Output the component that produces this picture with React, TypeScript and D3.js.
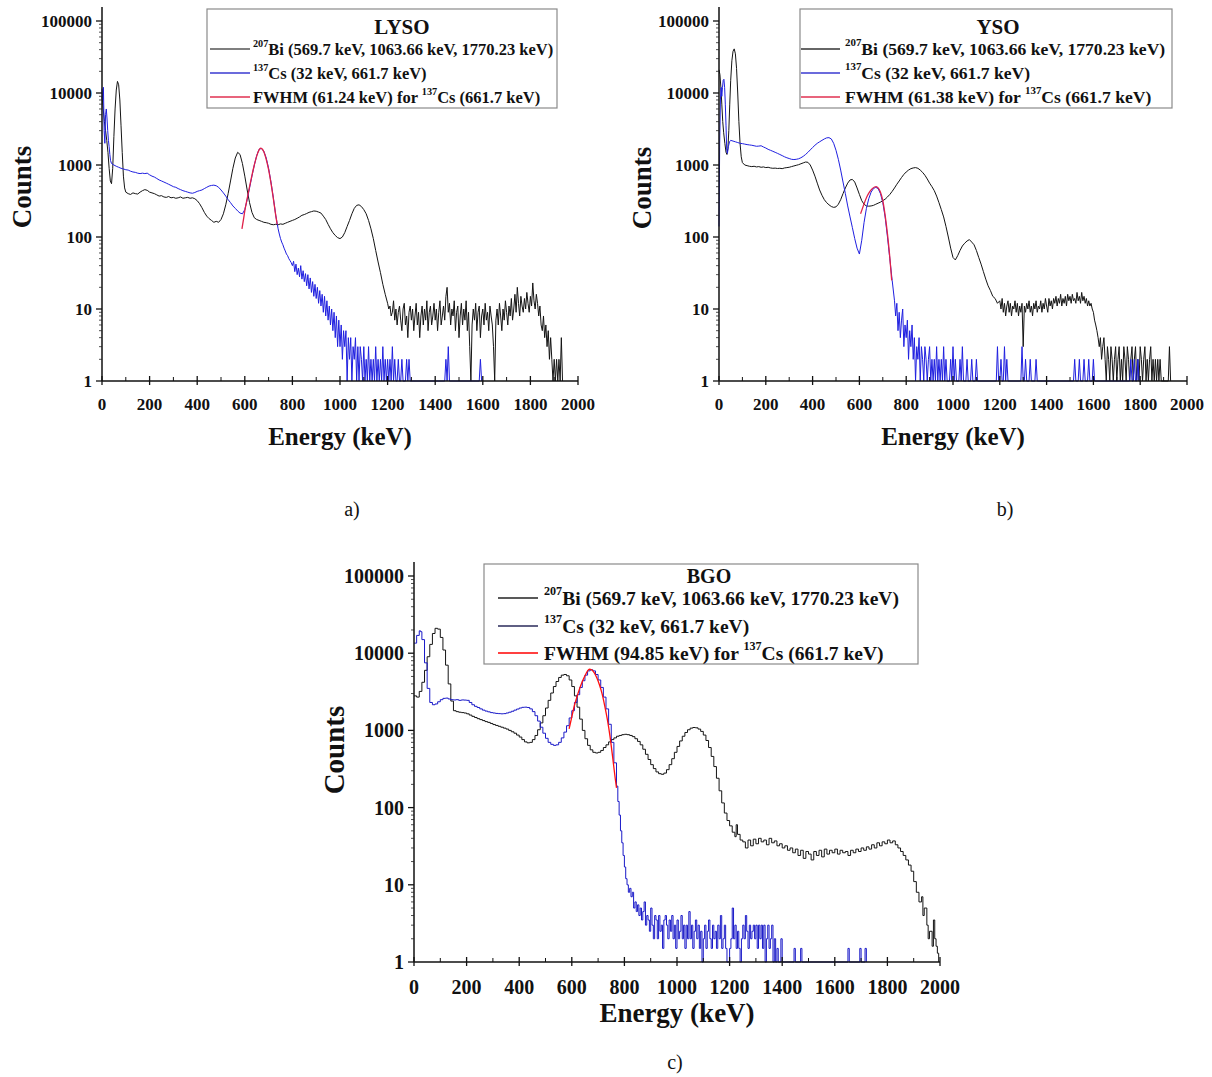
import React from 'react';
import * as d3 from 'd3';

type Pt = [number, number];

// ---------- axis tick data ----------
const xTickValues = [0, 200, 400, 600, 800, 1000, 1200, 1400, 1600, 1800, 2000];
const xMinorValues = [100, 300, 500, 700, 900, 1100, 1300, 1500, 1700, 1900];
const yTickValues = [1, 10, 100, 1000, 10000, 100000];
const yTickLabels = ['1', '10', '100', '1000', '10000', '100000'];
const xAxisTitle = 'Energy (keV)';
const yAxisTitle = 'Counts';

// ---------- legend texts ----------
const legendBiSup = '207';
const legendBi = 'Bi (569.7 keV, 1063.66 keV, 1770.23 keV)';
const legendCsSup = '137';
const legendCs = 'Cs (32 keV, 661.7 keV)';
const fwhmLYSO = '61.24';
const fwhmYSO = '61.38';
const fwhmBGO = '94.85';

// ---------- LYSO (a) ----------
const lysoBi: Pt[] = [
  [0, 9000], [5, 6000], [10, 4000], [15, 3000], [20, 2200], [25, 1500], [30, 900], [35, 600], [40, 550], [45, 900],
  [50, 2500], [55, 6000], [60, 11000], [65, 14500], [70, 13000], [75, 8000], [80, 3500], [85, 1500], [90, 700], [95, 480],
  [100, 420], [110, 400], [120, 390], [130, 410], [140, 400], [150, 395], [160, 420], [170, 440], [180, 455], [190, 445],
  [200, 420], [210, 410], [220, 400], [230, 385], [240, 370], [250, 375], [260, 360], [270, 355], [280, 365], [290, 350],
  [300, 355], [310, 345], [320, 350], [330, 360], [340, 345], [350, 350], [360, 355], [370, 345], [380, 350], [390, 340],
  [400, 320], [410, 290], [420, 255], [430, 220], [440, 195], [450, 180], [460, 170], [470, 160], [480, 165], [490, 160],
  [500, 175], [510, 210], [520, 280], [530, 400], [540, 600], [550, 900], [560, 1250], [570, 1500], [580, 1400], [590, 1050],
  [600, 700], [610, 450], [620, 300], [630, 220], [640, 185], [650, 175], [660, 170], [670, 165], [680, 160], [690, 158],
  [700, 155], [710, 150], [720, 148], [730, 150], [740, 148], [750, 152], [760, 150], [770, 155], [780, 160], [790, 165],
  [800, 170], [810, 175], [820, 182], [830, 190], [840, 200], [850, 205], [860, 212], [870, 220], [880, 225], [890, 230],
  [900, 228], [910, 222], [920, 215], [930, 195], [940, 175], [950, 150], [960, 130], [970, 115], [980, 105], [990, 98],
  [1000, 95], [1010, 100], [1020, 115], [1030, 140], [1040, 170], [1050, 210], [1060, 250], [1070, 275], [1080, 280], [1090, 265],
  [1100, 240], [1110, 210], [1120, 170], [1130, 130], [1140, 95], [1150, 65], [1160, 45], [1170, 32], [1180, 22], [1190, 16],
  [1200, 12], [1205, 10], [1210, 11], [1215, 8], [1220, 9], [1225, 13], [1230, 7], [1235, 10], [1240, 6], [1245, 9],
  [1250, 11], [1255, 7], [1260, 5], [1265, 10], [1270, 12], [1275, 6], [1280, 8], [1285, 4], [1290, 9], [1295, 11],
  [1300, 7], [1305, 10], [1310, 5], [1315, 8], [1320, 12], [1325, 6], [1330, 9], [1335, 4], [1340, 8], [1345, 11],
  [1350, 6], [1355, 10], [1360, 7], [1365, 13], [1370, 5], [1375, 9], [1380, 11], [1385, 6], [1390, 8], [1395, 12],
  [1400, 7], [1405, 10], [1410, 5], [1415, 9], [1420, 13], [1425, 6], [1430, 8], [1435, 11], [1440, 7], [1445, 15],
  [1450, 20], [1455, 9], [1460, 12], [1465, 6], [1470, 10], [1475, 8], [1480, 13], [1485, 5], [1490, 9], [1495, 11],
  [1500, 4], [1505, 8], [1510, 12], [1515, 6], [1520, 10], [1525, 7], [1530, 13], [1535, 5], [1540, 9], [1545, 3],
  [1550, 1], [1555, 6], [1560, 10], [1565, 7], [1570, 12], [1575, 5], [1580, 9], [1585, 11], [1590, 4], [1595, 8],
  [1600, 10], [1605, 6], [1610, 12], [1615, 7], [1620, 9], [1625, 5], [1630, 11], [1635, 8], [1640, 6], [1645, 3],
  [1650, 1], [1655, 7], [1660, 10], [1665, 6], [1670, 12], [1675, 8], [1680, 5], [1685, 10], [1690, 7], [1695, 13],
  [1700, 9], [1705, 6], [1710, 11], [1715, 8], [1720, 14], [1725, 7], [1730, 10], [1735, 16], [1740, 9], [1745, 20],
  [1750, 12], [1755, 8], [1760, 15], [1765, 11], [1770, 9], [1775, 14], [1780, 10], [1785, 17], [1790, 12], [1795, 9],
  [1800, 15], [1805, 11], [1810, 23], [1815, 13], [1820, 10], [1825, 16], [1830, 12], [1835, 8], [1840, 11], [1845, 6],
  [1850, 5], [1855, 8], [1860, 4], [1865, 6], [1870, 3], [1875, 5], [1880, 2], [1885, 4], [1890, 2], [1895, 1],
  [1900, 2], [1905, 1], [1910, 2], [1915, 1], [1920, 2], [1925, 1], [1930, 4], [1935, 1],
];
const lysoCs: Pt[] = [
  [0, 11500], [3, 8000], [6, 12000], [9, 3000], [12, 2000], [15, 5000], [18, 6000], [21, 4500], [24, 3000], [27, 2200],
  [30, 1800], [33, 1400], [36, 1150], [40, 1050], [50, 1000], [60, 960], [70, 930], [80, 900], [90, 880], [100, 860],
  [110, 850], [120, 820], [130, 800], [140, 790], [150, 770], [160, 760], [170, 770], [180, 760], [190, 770], [200, 730],
  [210, 700], [220, 680], [230, 650], [240, 620], [250, 600], [260, 580], [270, 560], [280, 540], [290, 520], [300, 500],
  [310, 490], [320, 470], [330, 455], [340, 440], [350, 430], [360, 420], [370, 410], [380, 405], [390, 415], [400, 430],
  [410, 440], [420, 450], [430, 470], [440, 490], [450, 510], [460, 520], [470, 525], [480, 515], [490, 490], [500, 450],
  [510, 410], [520, 370], [530, 330], [540, 300], [550, 270], [560, 250], [570, 230], [580, 215], [590, 210], [600, 240],
  [610, 330], [620, 480], [630, 700], [640, 1000], [650, 1350], [660, 1650], [670, 1700], [680, 1550], [690, 1250], [700, 900],
  [710, 580], [720, 350], [730, 200], [740, 130], [745, 110], [750, 95], [755, 85], [760, 78], [765, 70], [770, 64],
  [775, 58], [780, 55], [785, 50], [790, 47], [795, 44], [800, 40], [805, 46], [810, 33], [815, 42], [820, 30],
  [825, 37], [830, 28], [835, 40], [840, 26], [845, 34], [850, 24], [855, 31], [860, 21], [865, 30], [870, 19],
  [875, 27], [880, 17], [885, 24], [890, 15], [895, 22], [900, 14], [905, 20], [910, 12], [915, 18], [920, 11],
  [925, 16], [930, 9], [935, 15], [940, 8], [945, 13], [950, 7], [955, 11], [960, 6], [965, 10], [970, 5],
  [975, 9], [980, 4], [985, 8], [990, 3], [995, 7], [1000, 3], [1005, 6], [1010, 2], [1015, 5], [1020, 3],
  [1025, 5], [1030, 1], [1035, 4], [1040, 2], [1045, 4], [1050, 1], [1055, 3], [1060, 2], [1065, 4], [1070, 1],
  [1075, 3], [1080, 1], [1085, 3], [1090, 2], [1095, 1], [1100, 3], [1105, 1], [1110, 2], [1115, 1], [1120, 3],
  [1125, 1], [1130, 2], [1135, 1], [1140, 2], [1145, 1], [1150, 3], [1155, 1], [1160, 2], [1165, 1], [1170, 2],
  [1175, 1], [1180, 3], [1185, 1], [1190, 2], [1195, 1], [1200, 2], [1205, 1], [1210, 2], [1215, 1], [1220, 3],
  [1225, 1], [1230, 2], [1235, 1], [1240, 1], [1245, 2], [1250, 1], [1255, 1], [1260, 2], [1265, 1], [1275, 1],
  [1280, 2], [1285, 1], [1290, 2], [1295, 1], [1440, 1], [1445, 2], [1450, 1], [1455, 3], [1460, 1], [1585, 1],
  [1590, 2], [1595, 1],
];
const lysoFit: Pt[] = [
  [588, 130], [595, 180], [600, 230], [610, 340], [620, 500], [630, 720], [640, 1000], [650, 1330], [660, 1620],
  [666, 1720], [672, 1680], [680, 1530], [690, 1200], [700, 860], [710, 560], [720, 340], [730, 200], [736, 150],
];

// ---------- YSO (b) ----------
const ysoBi: Pt[] = [
  [0, 21000], [4, 18000], [8, 12000], [12, 7000], [16, 4000], [20, 2800], [25, 2000], [30, 1500], [34, 1400], [38, 1700],
  [42, 3000], [46, 7000], [50, 15000], [55, 28000], [60, 38000], [65, 41000], [70, 35000], [75, 22000], [80, 10000], [85, 4000],
  [90, 2000], [95, 1300], [100, 1080], [110, 1000], [120, 980], [130, 960], [140, 950], [150, 960], [160, 940], [170, 950],
  [180, 930], [190, 940], [200, 920], [210, 930], [220, 910], [230, 900], [240, 905], [250, 895], [260, 900], [270, 890],
  [280, 910], [290, 920], [300, 930], [310, 950], [320, 970], [330, 990], [340, 1010], [350, 1040], [360, 1070], [370, 1100],
  [380, 1090], [390, 1000], [400, 850], [410, 700], [420, 560], [430, 450], [440, 380], [450, 330], [460, 300], [470, 280],
  [480, 265], [490, 258], [500, 262], [510, 285], [520, 330], [530, 400], [540, 480], [550, 560], [560, 620], [570, 630],
  [580, 580], [590, 480], [600, 390], [610, 320], [620, 285], [630, 270], [640, 268], [650, 270], [660, 275], [670, 285],
  [680, 295], [690, 305], [700, 320], [710, 335], [720, 360], [730, 390], [740, 430], [750, 480], [760, 540], [770, 600],
  [780, 670], [790, 740], [800, 800], [810, 850], [820, 890], [830, 910], [840, 920], [850, 900], [860, 850], [870, 790],
  [880, 720], [890, 640], [900, 560], [910, 500], [920, 440], [930, 370], [940, 300], [950, 240], [960, 190], [970, 140],
  [980, 100], [990, 70], [1000, 52], [1010, 48], [1020, 55], [1030, 65], [1040, 75], [1050, 82], [1060, 88], [1070, 92],
  [1080, 85], [1090, 78], [1100, 65], [1110, 52], [1120, 42], [1130, 33], [1140, 26], [1150, 21], [1160, 18], [1170, 15],
  [1180, 14], [1190, 12], [1200, 13], [1205, 10], [1210, 14], [1215, 9], [1220, 12], [1225, 8], [1230, 11], [1235, 13],
  [1240, 9], [1245, 12], [1250, 8], [1255, 11], [1260, 10], [1265, 13], [1270, 9], [1275, 12], [1280, 8], [1285, 11],
  [1290, 9], [1295, 12], [1300, 3], [1305, 11], [1310, 9], [1315, 12], [1320, 10], [1325, 13], [1330, 9], [1335, 11],
  [1340, 8], [1345, 12], [1350, 10], [1355, 13], [1360, 9], [1365, 11], [1370, 10], [1375, 13], [1380, 9], [1385, 12],
  [1390, 10], [1395, 14], [1400, 11], [1405, 9], [1410, 14], [1415, 11], [1420, 13], [1425, 10], [1430, 14], [1435, 12],
  [1440, 15], [1445, 11], [1450, 14], [1455, 12], [1460, 16], [1465, 11], [1470, 14], [1475, 12], [1480, 15], [1485, 11],
  [1490, 16], [1495, 13], [1500, 15], [1505, 12], [1510, 16], [1515, 13], [1520, 14], [1525, 12], [1530, 17], [1535, 13],
  [1540, 15], [1545, 12], [1550, 17], [1555, 13], [1560, 15], [1565, 12], [1570, 14], [1575, 11], [1580, 13], [1585, 11],
  [1590, 12], [1595, 10], [1600, 9], [1605, 7], [1610, 6], [1615, 5], [1620, 4], [1625, 3], [1630, 4], [1635, 2],
  [1640, 3], [1645, 4], [1650, 2], [1655, 1], [1660, 3], [1665, 2], [1670, 1], [1675, 3], [1680, 2], [1685, 1],
  [1690, 2], [1695, 3], [1700, 1], [1705, 2], [1710, 3], [1715, 1], [1720, 2], [1725, 1], [1730, 3], [1735, 2],
  [1740, 1], [1745, 3], [1750, 2], [1755, 1], [1760, 2], [1765, 3], [1770, 1], [1775, 2], [1780, 3], [1785, 1],
  [1790, 2], [1795, 1], [1800, 3], [1805, 2], [1810, 1], [1815, 2], [1820, 3], [1825, 1], [1830, 2], [1835, 1],
  [1840, 2], [1845, 3], [1850, 1], [1855, 2], [1860, 1], [1865, 2], [1870, 1], [1875, 2], [1880, 1], [1885, 2],
  [1890, 1], [1920, 1], [1925, 3], [1930, 1],
];
const ysoCs: Pt[] = [
  [0, 140], [3, 2000], [6, 8000], [9, 12000], [12, 9000], [15, 12000], [18, 15000], [21, 15500], [24, 12000], [27, 7000],
  [30, 3500], [33, 1600], [36, 1450], [40, 1800], [45, 2100], [50, 2200], [60, 2150], [70, 2100], [80, 2050], [90, 2000],
  [100, 1980], [110, 1950], [120, 1920], [130, 1900], [140, 1880], [150, 1850], [160, 1820], [170, 1830], [180, 1850], [190, 1780],
  [200, 1720], [210, 1650], [220, 1600], [230, 1550], [240, 1500], [250, 1450], [260, 1400], [270, 1350], [280, 1300], [290, 1260],
  [300, 1230], [310, 1200], [320, 1190], [330, 1200], [340, 1220], [350, 1260], [360, 1320], [370, 1400], [380, 1500], [390, 1620],
  [400, 1750], [410, 1880], [420, 2000], [430, 2100], [440, 2200], [450, 2300], [460, 2380], [470, 2400], [480, 2300], [490, 2000],
  [500, 1600], [510, 1200], [520, 850], [530, 580], [540, 400], [550, 270], [560, 190], [570, 135], [580, 95], [590, 70],
  [600, 58], [610, 90], [620, 160], [630, 250], [640, 340], [650, 420], [660, 470], [670, 490], [680, 470], [690, 400],
  [700, 300], [710, 190], [720, 100], [730, 50], [740, 25], [750, 13], [755, 8], [760, 12], [765, 5], [770, 9],
  [775, 4], [780, 7], [785, 10], [790, 3], [795, 6], [800, 4], [805, 7], [810, 2], [815, 5], [820, 3],
  [825, 6], [830, 2], [835, 4], [840, 1], [845, 3], [850, 2], [855, 4], [860, 1], [865, 3], [870, 2],
  [875, 1], [880, 3], [885, 2], [890, 1], [895, 2], [900, 3], [905, 1], [910, 2], [915, 1], [920, 2],
  [925, 1], [930, 3], [935, 1], [940, 2], [945, 1], [950, 2], [955, 1], [960, 3], [965, 1], [970, 2],
  [975, 1], [985, 1], [990, 2], [995, 1], [1000, 3], [1005, 1], [1010, 2], [1015, 1], [1025, 1], [1030, 2],
  [1035, 1], [1040, 3], [1045, 1], [1055, 1], [1060, 2], [1065, 1], [1075, 1], [1080, 2], [1085, 1], [1095, 1],
  [1100, 2], [1105, 1], [1185, 1], [1190, 3], [1195, 1], [1200, 1], [1205, 2], [1210, 1], [1215, 1], [1220, 3],
  [1225, 1], [1230, 2], [1235, 1], [1290, 1], [1295, 3], [1300, 1], [1305, 1], [1310, 2], [1315, 1], [1325, 1],
  [1330, 2], [1335, 1], [1350, 1], [1355, 2], [1360, 1], [1515, 1], [1520, 2], [1525, 1], [1535, 1], [1540, 2],
  [1545, 1], [1555, 1], [1560, 2], [1565, 1], [1575, 1], [1580, 2], [1585, 1], [1595, 1], [1600, 2], [1605, 1],
  [1755, 1], [1760, 2], [1765, 1], [1770, 1], [1775, 2], [1780, 1], [1785, 1], [1790, 2], [1795, 1], [1800, 1],
];
const ysoFit: Pt[] = [
  [605, 210], [615, 260], [625, 320], [635, 380], [645, 430], [655, 470], [665, 495], [672, 500], [680, 480],
  [690, 420], [700, 320], [710, 200], [720, 110], [730, 52], [738, 25],
];

// ---------- BGO (c) ----------
const bgoBi: Pt[] = [
  [0, 2800], [10, 2700], [20, 3200], [30, 4200], [40, 6000], [50, 9000], [60, 13000], [70, 18000], [80, 21000], [90, 20500],
  [100, 16000], [110, 11000], [120, 7000], [130, 4000], [140, 2400], [150, 1800], [160, 1750], [170, 1720], [180, 1700], [190, 1680],
  [200, 1640], [210, 1580], [220, 1520], [230, 1470], [240, 1420], [250, 1380], [260, 1340], [270, 1300], [280, 1270], [290, 1230],
  [300, 1190], [310, 1160], [320, 1130], [330, 1100], [340, 1070], [350, 1040], [360, 1000], [370, 960], [380, 920], [390, 870],
  [400, 820], [410, 760], [420, 710], [430, 690], [440, 700], [450, 760], [460, 860], [470, 1020], [480, 1250], [490, 1550],
  [500, 1950], [510, 2450], [520, 3050], [530, 3700], [540, 4300], [550, 4850], [560, 5200], [570, 5300], [580, 5100], [590, 4500],
  [600, 3700], [610, 2800], [620, 2000], [630, 1400], [640, 1000], [650, 780], [660, 640], [670, 560], [680, 520], [690, 510],
  [700, 520], [710, 550], [720, 600], [730, 650], [740, 710], [750, 760], [760, 800], [770, 840], [780, 860], [790, 880],
  [800, 890], [810, 880], [820, 860], [830, 830], [840, 780], [850, 720], [860, 650], [870, 570], [880, 490], [890, 420],
  [900, 360], [910, 320], [920, 290], [930, 275], [940, 270], [950, 280], [960, 310], [970, 360], [980, 430], [990, 520],
  [1000, 620], [1010, 730], [1020, 840], [1030, 940], [1040, 1020], [1050, 1070], [1060, 1090], [1070, 1080], [1080, 1040], [1090, 970],
  [1100, 870], [1110, 740], [1120, 600], [1130, 460], [1140, 340], [1150, 240], [1160, 165], [1170, 115], [1180, 85], [1190, 68],
  [1200, 58], [1210, 48], [1220, 42], [1225, 60], [1230, 45], [1240, 38], [1250, 36], [1260, 30], [1270, 38], [1280, 32],
  [1290, 39], [1300, 34], [1310, 40], [1320, 36], [1330, 38], [1340, 33], [1350, 40], [1360, 35], [1370, 37], [1380, 32],
  [1390, 34], [1400, 30], [1410, 32], [1420, 28], [1430, 30], [1440, 26], [1450, 29], [1460, 24], [1470, 28], [1480, 22],
  [1490, 27], [1500, 25], [1510, 21], [1520, 27], [1530, 24], [1540, 28], [1550, 23], [1560, 29], [1570, 25], [1580, 28],
  [1590, 26], [1600, 29], [1610, 25], [1620, 28], [1630, 26], [1640, 27], [1650, 24], [1660, 28], [1670, 26], [1680, 29],
  [1690, 27], [1700, 30], [1710, 28], [1720, 31], [1730, 29], [1740, 33], [1750, 30], [1760, 35], [1770, 32], [1780, 36],
  [1790, 34], [1800, 38], [1810, 35], [1820, 37], [1830, 33], [1840, 30], [1850, 27], [1860, 24], [1870, 21], [1880, 18],
  [1890, 15], [1900, 11], [1910, 8], [1920, 6], [1930, 7], [1935, 4], [1940, 5], [1950, 3], [1955, 2], [1960, 2.5],
  [1970, 1.6], [1975, 3.5], [1980, 2], [1985, 1.6], [1990, 1.3], [1995, 1],
];
const bgoCs: Pt[] = [
  [0, 13500], [10, 17000], [20, 19500], [25, 19000], [30, 15000], [40, 7500], [50, 3500], [60, 2300], [70, 2150], [80, 2200],
  [90, 2350], [100, 2500], [110, 2600], [120, 2620], [130, 2550], [140, 2500], [150, 2480], [160, 2500], [170, 2450], [180, 2480],
  [190, 2470], [200, 2450], [210, 2300], [220, 2150], [230, 2050], [240, 1980], [250, 1900], [260, 1830], [270, 1780], [280, 1740],
  [290, 1700], [300, 1680], [310, 1660], [320, 1650], [330, 1640], [340, 1650], [350, 1680], [360, 1720], [370, 1770], [380, 1830],
  [390, 1890], [400, 1950], [410, 1990], [420, 2000], [430, 1980], [440, 1900], [450, 1750], [460, 1550], [470, 1320], [480, 1100],
  [490, 920], [500, 790], [510, 700], [520, 660], [530, 640], [540, 650], [550, 700], [560, 800], [570, 950], [580, 1150],
  [590, 1450], [600, 1800], [610, 2300], [620, 2900], [630, 3600], [640, 4400], [650, 5200], [660, 5900], [670, 6100], [680, 5900],
  [690, 5300], [700, 4500], [710, 3600], [720, 2700], [730, 1900], [740, 1200], [750, 700], [760, 380], [770, 190], [775, 120],
  [780, 80], [785, 50], [790, 35], [795, 24], [800, 17], [805, 12], [810, 10], [815, 8], [820, 9], [825, 7],
  [830, 8], [835, 5], [840, 6], [845, 4.5], [850, 5.5], [855, 4], [860, 5], [865, 3.5], [870, 4.5], [875, 6],
  [880, 3], [885, 4], [890, 3.5], [895, 2.5], [900, 5], [905, 3], [910, 2], [915, 4], [920, 3.5], [925, 2],
  [930, 4], [935, 2.5], [940, 3], [945, 1.5], [950, 3.5], [955, 4], [960, 3], [965, 2], [970, 3.5], [975, 2.5],
  [980, 4], [985, 2], [990, 3], [995, 1.5], [1000, 3.5], [1005, 2], [1010, 2.5], [1015, 4], [1020, 2], [1025, 3],
  [1030, 1.5], [1035, 3], [1040, 2], [1045, 4.5], [1050, 2], [1055, 3], [1060, 1.5], [1065, 2.5], [1070, 3.5], [1075, 2],
  [1080, 3], [1085, 1.5], [1090, 2.5], [1095, 1], [1100, 2], [1105, 3], [1110, 1.5], [1115, 2.5], [1120, 3.5], [1125, 2],
  [1130, 1.5], [1135, 3], [1140, 2], [1145, 2.5], [1150, 1.5], [1155, 3], [1160, 2], [1165, 4], [1170, 1.5], [1175, 2],
  [1180, 3], [1185, 1.5], [1190, 1], [1200, 1.5], [1205, 2], [1210, 5], [1215, 2], [1220, 3], [1225, 1.5], [1230, 2.5],
  [1235, 1.5], [1240, 1], [1245, 2], [1250, 3], [1255, 2], [1260, 4], [1265, 2.5], [1270, 1.5], [1275, 3], [1280, 2],
  [1285, 2.5], [1290, 3], [1295, 2], [1300, 3], [1305, 1.5], [1310, 3], [1315, 2], [1320, 3], [1325, 1.5], [1330, 3],
  [1335, 1], [1340, 2], [1345, 3], [1350, 1.5], [1355, 2], [1360, 3], [1365, 1], [1370, 2], [1375, 1], [1380, 1.5],
  [1385, 1], [1395, 2], [1400, 1], [1445, 1.5], [1450, 1], [1470, 1.5], [1475, 1], [1650, 1.5], [1655, 1], [1695, 1.5],
  [1700, 1], [1715, 1.5], [1720, 1],
];
const bgoFit: Pt[] = [
  [590, 1050], [600, 1500], [610, 2100], [620, 2750], [630, 3500], [640, 4300], [650, 5100], [660, 5900], [667, 6200],
  [675, 6100], [685, 5600], [695, 4800], [705, 3900], [715, 3000], [725, 2100], [735, 1400], [745, 850], [755, 460],
  [765, 240], [770, 180],
];

const FONT = "'Liberation Serif', 'Times New Roman', Times, serif";

interface Layout {
  left: number; right: number; top: number; bottom: number; axisTop: number; stepped: boolean;
  tickFont: number; tickLabelY: number; titleFont: number; titleX: number; titleY: number;
  countsFont: number; countsX: number; countsY: number;
  box: { x: number; y: number; w: number; h: number };
  legTitle: string; legTitleFont: number; legTitleX: number; legTitleY: number;
  rows: number[]; lineX0: number; lineX1: number; textX: number; legFont: number;
  fwhm: string;
  colBi: string; colCs: string; colFit: string;
  legColBi: string; legColCs: string; legColFit: string;
  caption: string; capX: number; capY: number;
}

function Sup({ sup, text, fs }: { sup: string; text: string; fs: number }) {
  return (
    <>
      <tspan fontSize={fs * 0.62} dy={-fs * 0.38}>{sup}</tspan>
      <tspan dy={fs * 0.38}>{text}</tspan>
    </>
  );
}

function Panel({ L, bi, cs, fit }: { L: Layout; bi: Pt[]; cs: Pt[]; fit: Pt[] }) {
  const x = d3.scaleLinear().domain([0, 2000]).range([L.left, L.right]);
  const y = d3.scaleLog().domain([1, 100000]).range([L.bottom, L.top]);
  const data = d3
    .line<Pt>()
    .x((d) => x(d[0]))
    .y((d) => y(Math.max(1, d[1])))
    .curve(L.stepped ? d3.curveStepAfter : d3.curveLinear);
  const smooth = d3.line<Pt>().x((d) => x(d[0])).y((d) => y(Math.max(1, d[1]))).curve(d3.curveMonotoneX);
  const minors: number[] = [];
  for (let k = 0; k < 5; k++) for (let m = 2; m <= 9; m++) minors.push(m * Math.pow(10, k));

  return (
    <g fontFamily={FONT}>
      {/* data */}
      <path d={data(bi) || ''} fill="none" stroke={L.colBi} strokeWidth={1} strokeLinejoin="miter" />
      <path d={data(cs) || ''} fill="none" stroke={L.colCs} strokeWidth={1} strokeLinejoin="miter" />
      <path d={smooth(fit) || ''} fill="none" stroke={L.colFit} strokeWidth={1.3} />

      {/* axes */}
      <line x1={L.left} x2={L.left} y1={L.axisTop} y2={L.bottom} stroke="#111" strokeWidth={1.5} />
      <line x1={L.left} x2={L.right} y1={L.bottom} y2={L.bottom} stroke="#111" strokeWidth={1.5} />
      {yTickValues.map((v, i) => (
        <g key={'yt' + v}>
          <line x1={L.left - 6} x2={L.left} y1={y(v)} y2={y(v)} stroke="#111" strokeWidth={1.3} />
          <text x={L.left - 10} y={y(v)} dy="0.35em" textAnchor="end" fontSize={L.tickFont} fontWeight="bold" fill="#111">
            {yTickLabels[i]}
          </text>
        </g>
      ))}
      {minors.map((v) => (
        <line key={'ym' + v} x1={L.left - 3} x2={L.left} y1={y(v)} y2={y(v)} stroke="#222" strokeWidth={0.8} />
      ))}
      {xTickValues.map((v) => (
        <g key={'xt' + v}>
          <line x1={x(v)} x2={x(v)} y1={L.bottom - 5} y2={L.bottom + 4} stroke="#111" strokeWidth={1.3} />
          <text x={x(v)} y={L.tickLabelY} textAnchor="middle" fontSize={L.tickFont} fontWeight="bold" fill="#111">
            {v}
          </text>
        </g>
      ))}
      {xMinorValues.map((v) => (
        <line key={'xm' + v} x1={x(v)} x2={x(v)} y1={L.bottom - 4} y2={L.bottom} stroke="#111" strokeWidth={1} />
      ))}
      <text x={L.titleX} y={L.titleY} textAnchor="middle" fontSize={L.titleFont} fontWeight="bold" fill="#111">
        {xAxisTitle}
      </text>
      <text
        transform={`translate(${L.countsX},${L.countsY}) rotate(-90)`}
        textAnchor="middle"
        dominantBaseline="central"
        fontSize={L.countsFont}
        fontWeight="bold"
        fill="#111"
      >
        {yAxisTitle}
      </text>

      {/* legend */}
      <rect x={L.box.x} y={L.box.y} width={L.box.w} height={L.box.h} fill="#fff" stroke="#8a8a8a" strokeWidth={1.2} />
      <text x={L.legTitleX} y={L.legTitleY} textAnchor="middle" dominantBaseline="central" fontSize={L.legTitleFont} fontWeight="bold" fill="#111">
        {L.legTitle}
      </text>
      <line x1={L.lineX0} x2={L.lineX1} y1={L.rows[0]} y2={L.rows[0]} stroke={L.legColBi} strokeWidth={1.3} />
      <line x1={L.lineX0} x2={L.lineX1} y1={L.rows[1]} y2={L.rows[1]} stroke={L.legColCs} strokeWidth={1.3} />
      <line x1={L.lineX0} x2={L.lineX1} y1={L.rows[2]} y2={L.rows[2]} stroke={L.legColFit} strokeWidth={1.3} />
      <text x={L.textX} y={L.rows[0]} dominantBaseline="central" fontSize={L.legFont} fontWeight="bold" fill="#111">
        <Sup sup={legendBiSup} text={legendBi} fs={L.legFont} />
      </text>
      <text x={L.textX} y={L.rows[1]} dominantBaseline="central" fontSize={L.legFont} fontWeight="bold" fill="#111">
        <Sup sup={legendCsSup} text={legendCs} fs={L.legFont} />
      </text>
      <text x={L.textX} y={L.rows[2]} dominantBaseline="central" fontSize={L.legFont} fontWeight="bold" fill="#111">
        <tspan>{`FWHM (${L.fwhm} keV) for `}</tspan>
        <Sup sup={legendCsSup} text={'Cs (661.7 keV)'} fs={L.legFont} />
      </text>

      {/* caption */}
      <text x={L.capX} y={L.capY} textAnchor="middle" fontSize={20} fill="#111">
        {L.caption}
      </text>
    </g>
  );
}

const layoutA: Layout = {
  left: 102, right: 578, top: 21, bottom: 381, axisTop: 7, stepped: false,
  tickFont: 17, tickLabelY: 410, titleFont: 25, titleX: 340, titleY: 445,
  countsFont: 27, countsX: 22, countsY: 187,
  box: { x: 207, y: 9, w: 350, h: 99 },
  legTitle: 'LYSO', legTitleFont: 21, legTitleX: 402, legTitleY: 27,
  rows: [49, 73, 97], lineX0: 210, lineX1: 250, textX: 253, legFont: 16.5,
  fwhm: fwhmLYSO,
  colBi: '#141414', colCs: '#1f1fe0', colFit: '#e02048',
  legColBi: '#555', legColCs: '#3a3ad0', legColFit: '#e03050',
  caption: 'a)', capX: 352, capY: 516,
};

const layoutB: Layout = {
  left: 719, right: 1187, top: 21, bottom: 381, axisTop: 7, stepped: false,
  tickFont: 17, tickLabelY: 410, titleFont: 25, titleX: 953, titleY: 445,
  countsFont: 27, countsX: 642, countsY: 188,
  box: { x: 800, y: 9, w: 372, h: 99 },
  legTitle: 'YSO', legTitleFont: 21, legTitleX: 998, legTitleY: 27,
  rows: [49, 73, 97], lineX0: 801, lineX1: 840, textX: 845, legFont: 17.6,
  fwhm: fwhmYSO,
  colBi: '#141414', colCs: '#1f1fe0', colFit: '#e02048',
  legColBi: '#333', legColCs: '#3a3ad0', legColFit: '#e03050',
  caption: 'b)', capX: 1005, capY: 516,
};

const layoutC: Layout = {
  left: 414, right: 940, top: 576, bottom: 962, axisTop: 562, stepped: true,
  tickFont: 20, tickLabelY: 994, titleFont: 27, titleX: 677, titleY: 1022,
  countsFont: 29, countsX: 334, countsY: 750,
  box: { x: 484, y: 564, w: 434, h: 100 },
  legTitle: 'BGO', legTitleFont: 20, legTitleX: 709, legTitleY: 576,
  rows: [598, 626, 653], lineX0: 498, lineX1: 538, textX: 544, legFont: 19.5,
  fwhm: fwhmBGO,
  colBi: '#141414', colCs: '#1a1ac8', colFit: '#ff1010',
  legColBi: '#222', legColCs: '#2a2a5a', legColFit: '#ff0000',
  caption: 'c)', capX: 675, capY: 1069,
};

export default function App() {
  return (
    <svg
      width={1212}
      height={1077}
      viewBox="0 0 1212 1077"
      style={{ position: 'absolute', left: 0, top: 0, background: '#fff' }}
    >
      <rect x={0} y={0} width={1212} height={1077} fill="#fff" />
      <Panel L={layoutA} bi={lysoBi} cs={lysoCs} fit={lysoFit} />
      <Panel L={layoutB} bi={ysoBi} cs={ysoCs} fit={ysoFit} />
      <Panel L={layoutC} bi={bgoBi} cs={bgoCs} fit={bgoFit} />
    </svg>
  );
}
